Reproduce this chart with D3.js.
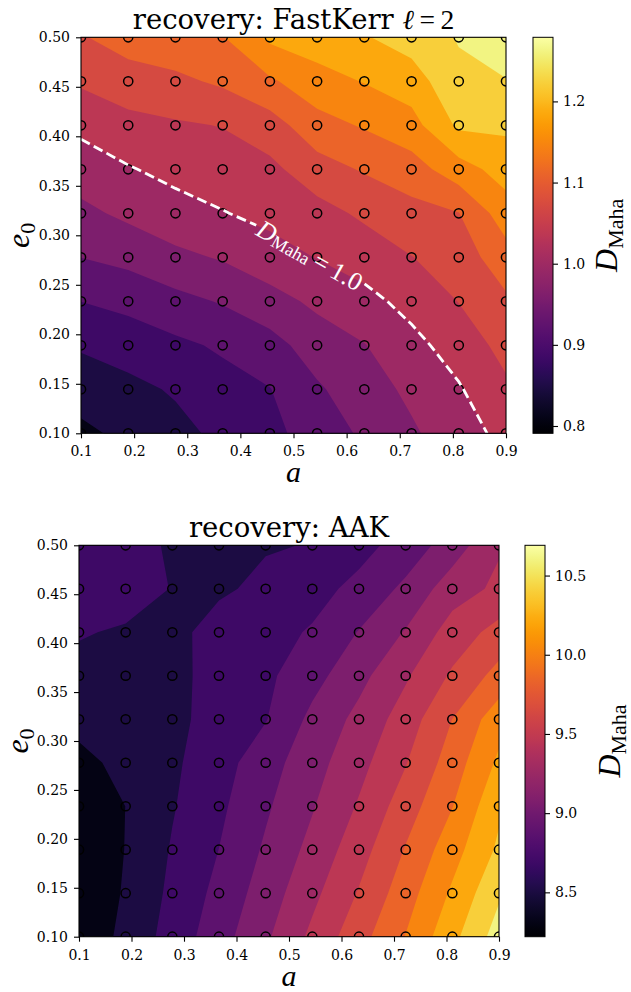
<!DOCTYPE html>
<html>
<head>
<meta charset="utf-8">
<script src="https://cdn.jsdelivr.net/npm/d3@7/dist/d3.min.js"></script>
<style>
  html, body { margin: 0; padding: 0; background: #ffffff; }
  svg { display: block; }
</style>
</head>
<body>
<svg id="fig" width="631" height="992"></svg>
<script>
// ---------------- data ----------------
const aGrid  = [0.1, 0.18889, 0.27778, 0.36667, 0.45556, 0.54444, 0.63333, 0.72222, 0.81111, 0.9];
const e0Grid = [0.1, 0.14444, 0.18889, 0.23333, 0.27778, 0.32222, 0.36667, 0.41111, 0.45556, 0.5];

// rows: e0 = 0.10 ... 0.50 ; columns: a = 0.1 ... 0.9
const fastKerrDMaha = [
  [0.791, 0.810, 0.829, 0.849, 0.870, 0.897, 0.927, 0.9545, 0.982, 1.012],
  [0.8174, 0.830, 0.8441, 0.8658, 0.8788, 0.9147, 0.9427, 0.9682, 0.9964, 1.0327],
  [0.8446, 0.8567, 0.8717, 0.8856, 0.9053, 0.9393, 0.9584, 0.9887, 1.0171, 1.0531],
  [0.8804, 0.8918, 0.908, 0.9233, 0.945, 0.9684, 0.9883, 1.0124, 1.041, 1.0733],
  [0.9205, 0.9314, 0.9511, 0.9635, 0.9843, 1.0014, 1.0176, 1.039, 1.0595, 1.1035],
  [0.9503, 0.9686, 0.9846, 0.9983, 1.0107, 1.0255, 1.0473, 1.0667, 1.079, 1.1416],
  [0.9792, 0.9971, 1.0118, 1.0198, 1.0302, 1.0629, 1.084, 1.1022, 1.1429, 1.1771],
  [1.0096, 1.0269, 1.0353, 1.0414, 1.0622, 1.1055, 1.1238, 1.1453, 1.2072, 1.2076],
  [1.0456, 1.0631, 1.0714, 1.0867, 1.1143, 1.144, 1.162, 1.1808, 1.2311, 1.2371],
  [1.0769, 1.097, 1.107, 1.118, 1.168, 1.182, 1.197, 1.218, 1.2426, 1.279]
];

const aakDMaha = [
  [8.24, 8.458, 8.679, 8.917, 9.167, 9.445, 9.726, 10.007, 10.343, 10.691],
  [8.22, 8.423, 8.645, 8.857, 9.095, 9.349, 9.616, 9.911, 10.232, 10.571],
  [8.25, 8.405, 8.617, 8.802, 9.029, 9.26, 9.517, 9.814, 10.118, 10.437],
  [8.30, 8.401, 8.585, 8.759, 8.971, 9.185, 9.421, 9.703, 9.994, 10.363],
  [8.36, 8.44, 8.566, 8.719, 8.914, 9.122, 9.336, 9.589, 9.897, 10.238],
  [8.444, 8.47, 8.55, 8.675, 8.79, 9.05, 9.256, 9.493, 9.802, 10.12],
  [8.56, 8.52, 8.55, 8.665, 8.758, 8.929, 9.14, 9.375, 9.629, 9.87],
  [8.61, 8.585, 8.56, 8.654, 8.731, 8.819, 9.01, 9.215, 9.489, 9.67],
  [8.68, 8.66, 8.595, 8.58, 8.63, 8.73, 8.855, 9.044, 9.309, 9.44],
  [8.72, 8.70, 8.567, 8.54, 8.59, 8.605, 8.732, 8.882, 9.095, 9.38]
];

const fastKerrLevels = [0.76, 0.80, 0.84, 0.88, 0.92, 0.96, 1.00, 1.04, 1.08, 1.12, 1.16, 1.20, 1.24, 1.28];
const aakLevels = [8.2, 8.4, 8.6, 8.8, 9.0, 9.2, 9.4, 9.6, 9.8, 10.0, 10.2, 10.4, 10.6, 10.8];

const xTickValues = [0.1, 0.2, 0.3, 0.4, 0.5, 0.6, 0.7, 0.8, 0.9];
const yTickValues = [0.10, 0.15, 0.20, 0.25, 0.30, 0.35, 0.40, 0.45, 0.50];
const fastKerrCbarTicks = [0.8, 0.9, 1.0, 1.1, 1.2];
const aakCbarTicks = [8.5, 9.0, 9.5, 10.0, 10.5];
const fastKerrContourLevel = 1.0;
const contourLabelText = "1.0";

// ---------------- drawing ----------------
const SERIF = "'DejaVu Serif', serif";
const MATH = "'Liberation Serif', 'DejaVu Serif', serif";
const svg = d3.select("#fig");
const defs = svg.append("defs");

const panels = [
  { id: "fk", values: fastKerrDMaha, levels: fastKerrLevels, cbTicks: fastKerrCbarTicks,
    title: "recovery: FastKerr ", titleMath: true,
    x0: 81, x1: 506, y0: 37.3, y1: 433.3, cbx0: 533, cbx1: 553, cbLabelX: 617, yLabelX: 29,
    iso: fastKerrContourLevel },
  { id: "aak", values: aakDMaha, levels: aakLevels, cbTicks: aakCbarTicks,
    title: "recovery: AAK", titleMath: false,
    x0: 79, x1: 499, y0: 545.3, y1: 936.7, cbx0: 525, cbx1: 545, cbLabelX: 620, yLabelX: 28,
    iso: null }
];

function styleAxis(sel) {
  sel.attr("font-family", SERIF).attr("font-size", 14);
  sel.select(".domain").remove();
  sel.selectAll(".tick line").attr("stroke", "#000").attr("stroke-width", 1.1);
  sel.selectAll(".tick text").attr("fill", "#000");
}

function insidePolyline(ring, px, py, p) {
  const eps = 0.5;
  const pts = ring.map(([cx, cy]) => [px(cx), py(cy)]);
  const ok = q => q[0] >= p.x0 - eps && q[0] <= p.x1 + eps && q[1] >= p.y0 - eps && q[1] <= p.y1 + eps;
  const start = pts.findIndex(q => !ok(q));
  if (start < 0) return pts;
  const rot = pts.slice(start).concat(pts.slice(0, start));
  let best = [], cur = [];
  for (const q of rot) {
    if (ok(q)) cur.push(q);
    else { if (cur.length > best.length) best = cur; cur = []; }
  }
  if (cur.length > best.length) best = cur;
  return best;
}

function cumLengths(pts) {
  const c = [0];
  for (let i = 1; i < pts.length; i++) c.push(c[i-1] + Math.hypot(pts[i][0]-pts[i-1][0], pts[i][1]-pts[i-1][1]));
  return c;
}
function pointAt(pts, cum, s) {
  s = Math.max(0, Math.min(cum[cum.length-1], s));
  let i = 1;
  while (i < cum.length - 1 && cum[i] < s) i++;
  const t = (s - cum[i-1]) / ((cum[i] - cum[i-1]) || 1);
  return { p: [pts[i-1][0] + t*(pts[i][0]-pts[i-1][0]), pts[i-1][1] + t*(pts[i][1]-pts[i-1][1])], i };
}
function subLine(pts, cum, s0, s1) {
  const a = pointAt(pts, cum, s0), b = pointAt(pts, cum, s1);
  const out = [a.p];
  for (let k = a.i; k < b.i; k++) out.push(pts[k]);
  out.push(b.p);
  return out;
}

panels.forEach(p => {
  const g = svg.append("g");
  const nx = aGrid.length, ny = e0Grid.length;
  const x = d3.scaleLinear().domain([aGrid[0], aGrid[nx-1]]).range([p.x0, p.x1]);
  const y = d3.scaleLinear().domain([e0Grid[0], e0Grid[ny-1]]).range([p.y1, p.y0]);
  const idxA = d3.scaleLinear().domain([0, nx-1]).range([aGrid[0], aGrid[nx-1]]);
  const idxE = d3.scaleLinear().domain([0, ny-1]).range([e0Grid[0], e0Grid[ny-1]]);
  const px = cx => x(idxA(cx - 0.5));
  const py = cy => y(idxE(cy - 0.5));
  const path = d3.geoPath(d3.geoTransform({ point(cx, cy) { this.stream.point(px(cx), py(cy)); } }));

  const flat = p.values.flat();
  const lo = p.levels[0], hi = p.levels[p.levels.length - 1];
  const bands = d3.contours().size([nx, ny]).thresholds(p.levels)(flat).slice(0, -1);

  defs.append("clipPath").attr("id", p.id + "-clip")
    .append("rect").attr("x", p.x0).attr("y", p.y0).attr("width", p.x1 - p.x0).attr("height", p.y1 - p.y0);
  const plot = g.append("g").attr("clip-path", `url(#${p.id}-clip)`);

  plot.selectAll("path.band").data(bands).join("path")
    .attr("class", "band")
    .attr("d", path)
    .attr("fill", (d, k) => d3.interpolateInferno(((p.levels[k] + p.levels[k+1]) / 2 - lo) / (hi - lo)));

  // grid markers
  const pts = [];
  e0Grid.forEach(e => aGrid.forEach(a => pts.push([a, e])));
  plot.selectAll("circle").data(pts).join("circle")
    .attr("cx", d => x(d[0])).attr("cy", d => y(d[1])).attr("r", 4.6)
    .attr("fill", "none").attr("stroke", "#000").attr("stroke-width", 1.5);

  // iso contour with inline label
  if (p.iso != null) {
    const iso = d3.contours().size([nx, ny]).thresholds([p.iso])(flat)[0];
    let line = [];
    iso.coordinates.forEach(poly => poly.forEach(ring => {
      const l = insidePolyline(ring, px, py, p);
      if (l.length > line.length) line = l;
    }));
    if (line.length && line[0][0] > line[line.length-1][0]) line.reverse();
    const cum = cumLengths(line);
    const L = cum[cum.length - 1];
    const sMid = L * 0.5;
    const c = pointAt(line, cum, sMid).p;
    const pa = pointAt(line, cum, sMid - 45).p, pb = pointAt(line, cum, sMid + 45).p;
    let ang = Math.atan2(pb[1] - pa[1], pb[0] - pa[0]) * 180 / Math.PI;
    if (ang > 90) ang -= 180; if (ang < -90) ang += 180;

    const lab = g.append("text")
      .attr("transform", `translate(${c[0]},${c[1]}) rotate(${ang})`)
      .attr("text-anchor", "middle").attr("dominant-baseline", "central")
      .attr("fill", "#ffffff").attr("font-family", MATH).attr("font-size", 26);
    lab.append("tspan").attr("font-style", "italic").text("D");
    lab.append("tspan").attr("font-size", 18).attr("dy", 5).text("Maha");
    lab.append("tspan").attr("dy", -5).text("\u2009=\u2009" + contourLabelText);
    const w = lab.node().getComputedTextLength() + 6;

    const lineGen = d3.line();
    const parts = [subLine(line, cum, 0, sMid - w / 2), subLine(line, cum, sMid + w / 2, L)];
    plot.selectAll("path.iso").data(parts).join("path")
      .attr("class", "iso")
      .attr("d", lineGen)
      .attr("fill", "none").attr("stroke", "#ffffff").attr("stroke-width", 2.8)
      .attr("stroke-dasharray", "10,4.5");
  }

  // frame
  g.append("rect").attr("x", p.x0).attr("y", p.y0).attr("width", p.x1 - p.x0).attr("height", p.y1 - p.y0)
    .attr("fill", "none").attr("stroke", "#000").attr("stroke-width", 1.1);

  // axes
  g.append("g").attr("transform", `translate(0,${p.y1})`)
    .call(d3.axisBottom(x).tickValues(xTickValues).tickFormat(d3.format(".1f")).tickSize(5).tickPadding(8))
    .call(styleAxis);
  g.append("g").attr("transform", `translate(${p.x0},0)`)
    .call(d3.axisLeft(y).tickValues(yTickValues).tickFormat(d3.format(".2f")).tickSize(5).tickPadding(6))
    .call(styleAxis);

  // title
  const t = g.append("text").attr("x", (p.x0 + p.x1) / 2).attr("y", p.y0 - 8.5)
    .attr("text-anchor", "middle").attr("font-family", SERIF).attr("font-size", 27.5).attr("fill", "#000");
  t.append("tspan").text(p.title);
  if (p.titleMath) {
    t.append("tspan").attr("font-family", MATH).attr("font-style", "italic").text("\u2113");
    t.append("tspan").attr("font-family", MATH).text("\u2009=\u20092");
  }

  // x label
  g.append("text").attr("x", (p.x0 + p.x1) / 2).attr("y", p.y1 + 49)
    .attr("text-anchor", "middle").attr("font-family", MATH).attr("font-style", "italic")
    .attr("font-size", 30).attr("fill", "#000").text("a");

  // y label
  const yl = g.append("text").attr("transform", `translate(${p.yLabelX},${(p.y0 + p.y1) / 2}) rotate(-90)`)
    .attr("text-anchor", "middle").attr("font-family", MATH).attr("font-size", 32).attr("fill", "#000");
  yl.append("tspan").attr("font-style", "italic").text("e");
  yl.append("tspan").attr("font-size", 22).attr("dy", 6).text("0");

  // colorbar
  const ext = d3.extent(flat);
  const gid = p.id + "-grad";
  const grad = defs.append("linearGradient").attr("id", gid)
    .attr("x1", 0).attr("y1", 1).attr("x2", 0).attr("y2", 0);
  d3.range(0, 1.0001, 0.02).forEach(s => grad.append("stop").attr("offset", s).attr("stop-color", d3.interpolateInferno(s)));
  g.append("rect").attr("x", p.cbx0).attr("y", p.y0).attr("width", p.cbx1 - p.cbx0).attr("height", p.y1 - p.y0)
    .attr("fill", `url(#${gid})`).attr("stroke", "#000").attr("stroke-width", 1);
  const cy = d3.scaleLinear().domain(ext).range([p.y1, p.y0]);
  g.append("g").attr("transform", `translate(${p.cbx1},0)`)
    .call(d3.axisRight(cy).tickValues(p.cbTicks).tickFormat(d3.format(".1f")).tickSize(5).tickPadding(5))
    .call(styleAxis);
  const cl = g.append("text").attr("transform", `translate(${p.cbLabelX},${(p.y0 + p.y1) / 2}) rotate(-90)`)
    .attr("text-anchor", "middle").attr("font-family", MATH).attr("font-size", 32).attr("fill", "#000");
  cl.append("tspan").attr("font-style", "italic").text("D");
  cl.append("tspan").attr("font-size", 22).attr("dy", 6).text("Maha");
});
</script>
</body>
</html>
